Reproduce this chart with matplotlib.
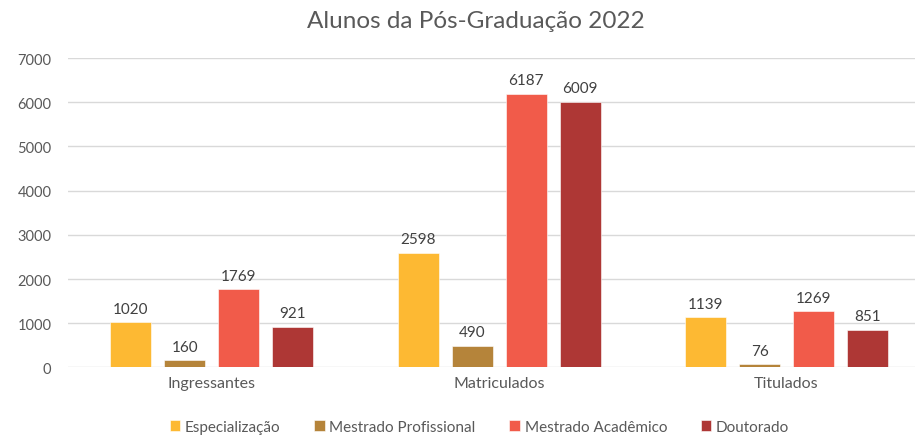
from matplotlib import pyplot as plt
import numpy as np

categories = ['Ingressantes', 'Matriculados', 'Titulados']
series = ['Especialização', 'Mestrado Profissional', 'Mestrado Acadêmico', 'Doutorado']
especializacao = [1020, 2598, 1139]
mestrado_prof = [160, 490, 76]
mestrado_acad = [1769, 6187, 1269]
doutorado = [921, 6009, 851]
colors = ['#FDB933', '#B5843A', '#F15B4A', '#AE3735']

plt.rcParams['font.family'] = ['Lato', 'DejaVu Sans']
txt = '#595959'

fig = plt.figure(figsize=(9.15, 4.39), dpi=100)
ax = fig.add_axes([68 / 915, 0.1606, 1 - 68 / 915, 0.705])

x = np.arange(len(categories))
w = 0.1426
step = 0.1878
values = [especializacao, mestrado_prof, mestrado_acad, doutorado]
for i, (name, vals) in enumerate(zip(series, values)):
    pos = x + (i - 1.5) * step
    bars = ax.bar(pos, vals, w, color=colors[i], label=name, zorder=3,
                  edgecolor='white', linewidth=0.4)
    for b, v in zip(bars, vals):
        ax.text(b.get_x() + b.get_width() / 2, v + 150, str(v), ha='center',
                va='bottom', fontsize=11, color='#404040')

ax.set_xlim(-0.5, (915 - 211.5) / 287.5)
ax.set_ylim(0, 7000)
ax.set_yticks(range(0, 7001, 1000))
ax.set_xticks(x)
ax.set_xticklabels(categories)
ax.yaxis.grid(True, color='#D9D9D9', linewidth=1, zorder=0)
for s in ax.spines.values():
    s.set_visible(False)
ax.tick_params(axis='both', length=0, colors=txt, labelsize=10.5)
ax.tick_params(axis='x', labelsize=11.5, pad=6)
ax.tick_params(axis='y', pad=12)

fig.text(0.52, 0.952, 'Alunos da Pós-Graduação 2022', ha='center', va='center',
         fontsize=17.5, color=txt)

leg = fig.legend(loc='center', bbox_to_anchor=(0.524, 0.025), ncol=4, frameon=False,
                 fontsize=11, handlelength=0.7, handleheight=0.7,
                 handletextpad=0.3, columnspacing=2.2)
for t in leg.get_texts():
    t.set_color(txt)

fig.savefig('out.png', dpi=100)
